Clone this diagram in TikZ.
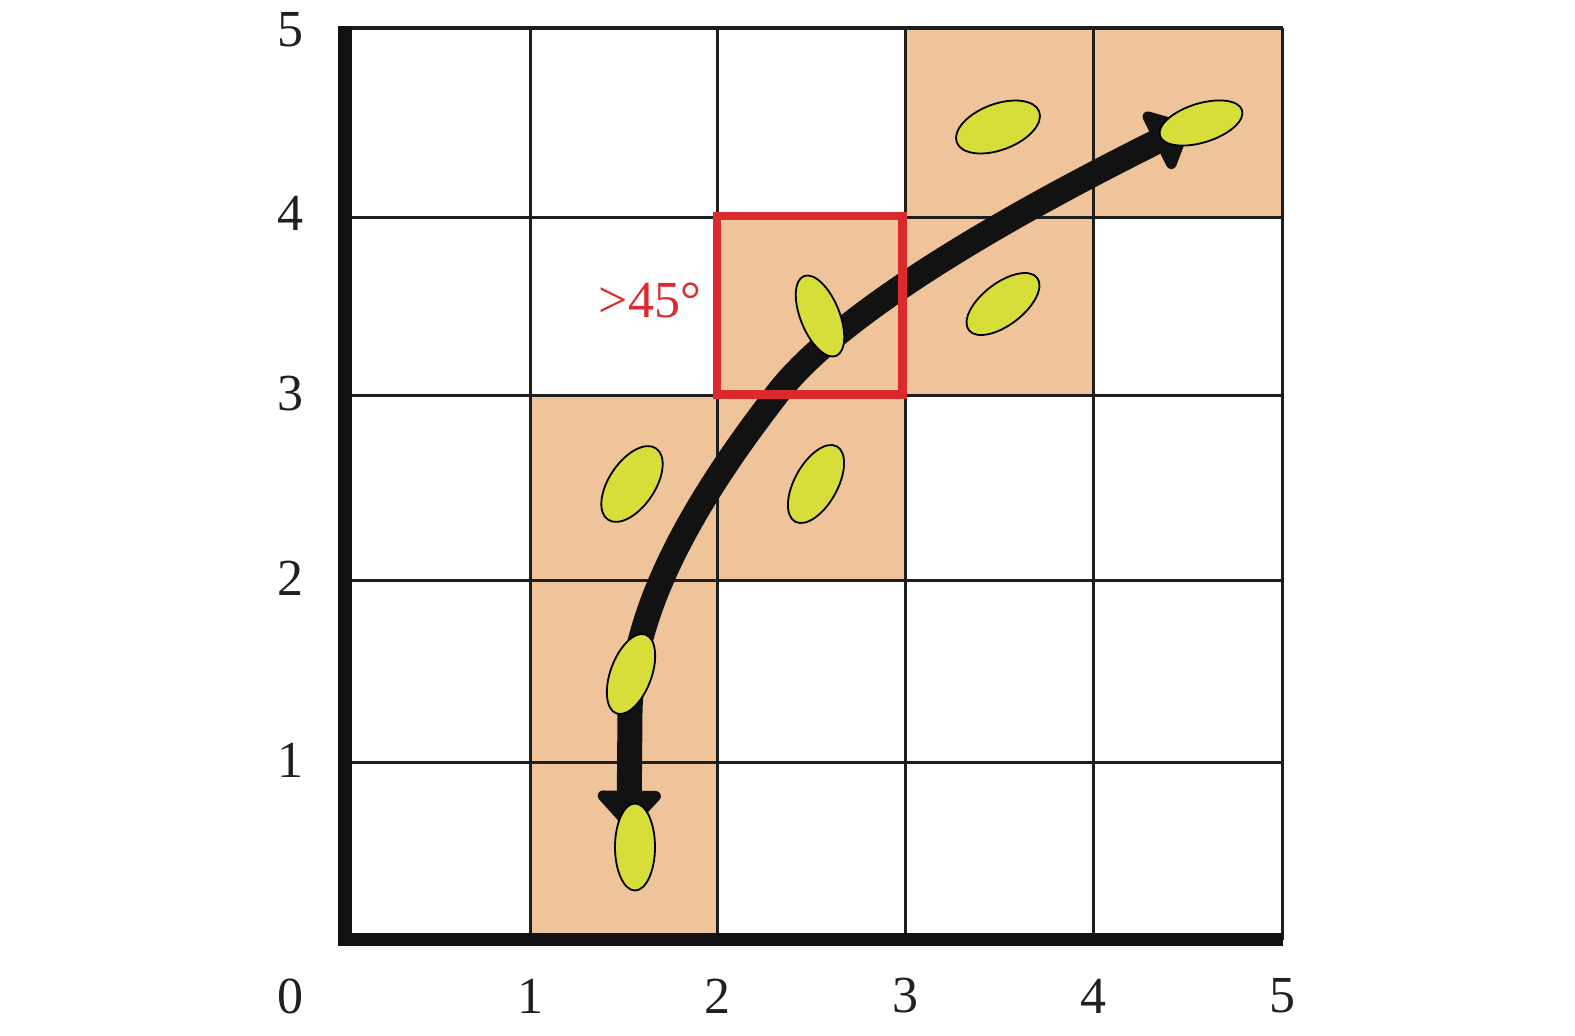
\documentclass[tikz,border=0pt]{standalone}
\usepackage{fontspec}
\setmainfont{Liberation Serif}
\newfontfamily\lblfont{Liberation Serif}
\usetikzlibrary{shapes.geometric,arrows.meta}
\definecolor{cellor}{HTML}{EFC49A}
\definecolor{leaf}{HTML}{D7DE3A}
\definecolor{boxred}{HTML}{DA2A2E}
\definecolor{gridk}{HTML}{1E1E1E}
\definecolor{txt}{HTML}{231F20}
\tikzset{
  lbl/.style={font=\lblfont\fontsize{26}{30}\selectfont, inner sep=0pt, text=txt},
  leafnode/.style={ellipse, draw=black, line width=0.9pt, fill=leaf, inner sep=0pt},
  gridline/.style={draw=gridk, line width=1.5pt},
  headtip/.tip={Triangle[round,length=21pt,width=37pt]},
}
\begin{document}
\begin{tikzpicture}[x=0.5pt,y=-0.5pt]
\useasboundingbox (0,0) rectangle (1575,1035);
% orange cells
\fill[cellor] (530,939.5) rectangle (717,580);
\fill[cellor] (530,580) rectangle (905,395);
\fill[cellor] (717,395) rectangle (1093,217);
\fill[cellor] (905,217) rectangle (1282,27.5);
% grid
\foreach \gx in {530,717,905,1093,1282} {\draw[gridline] (\gx,27.5) -- (\gx,939.5);}
\foreach \gy in {217,395,580,762} {\draw[gridline] (343,\gy) -- (1282,\gy);}
\draw[draw=gridk, line width=2pt] (343,27.5) -- (1283,27.5);
% axes
\fill[black!93] (338,25.5) rectangle (352,946);
\fill[black!93] (338,933) rectangle (1283,946);
% curved arrow
\coordinate (pstart) at (629,830);
\coordinate (pbend) at (630,712);
\coordinate (pmid) at (774,398);
\coordinate (pend) at (1190,125);
\draw[line width=12.5pt, black!93, headtip-headtip]
  (pstart) -- (pbend)
  .. controls (632,620) and (680,520) .. (pmid)
  .. controls (844,302) and (1060,190) .. (pend);
% red box
\draw[boxred, line width=4.3pt] (717,216) rectangle (902.5,394.5);
% leaves
\node[leafnode, minimum width=44pt, minimum height=23pt, rotate=20.5] (e1) at (998,127) {};
\node[leafnode, minimum width=43pt, minimum height=19.5pt, rotate=17.3] (e2) at (1201,123) {};
\node[leafnode, minimum width=43pt, minimum height=21pt, rotate=37.4] (e3) at (1003,304) {};
\node[leafnode, minimum width=43pt, minimum height=19.5pt, rotate=112] (e4) at (820,316) {};
\node[leafnode, minimum width=43pt, minimum height=23pt, rotate=56] (e5) at (632,484) {};
\node[leafnode, minimum width=43pt, minimum height=21.5pt, rotate=61] (e6) at (816,484) {};
\node[leafnode, minimum width=42pt, minimum height=20.5pt, rotate=69.6] (e7) at (631,674) {};
\node[leafnode, minimum width=43.5pt, minimum height=20pt, rotate=90] (e8) at (635,847) {};
% labels
\node[lbl] (y5) at (290,29.5) {5};
\node[lbl] (y4) at (290,213) {4};
\node[lbl] (y3) at (290,394) {3};
\node[lbl] (y2) at (290,578) {2};
\node[lbl] (y1) at (290,760) {1};
\node[lbl] (x0) at (290,996) {0};
\node[lbl] (x1) at (530,996) {1};
\node[lbl] (x2) at (717,996) {2};
\node[lbl] (x3) at (905,996) {3};
\node[lbl] (x4) at (1093,996) {4};
\node[lbl] (x5) at (1282,996) {5};
\node[inner sep=0pt, text=boxred] (ang) at (650,300)
  {\fontspec{Liberation Serif}\fontsize{26}{30}\selectfont\textgreater 45\textdegree};
\end{tikzpicture}
\end{document}
